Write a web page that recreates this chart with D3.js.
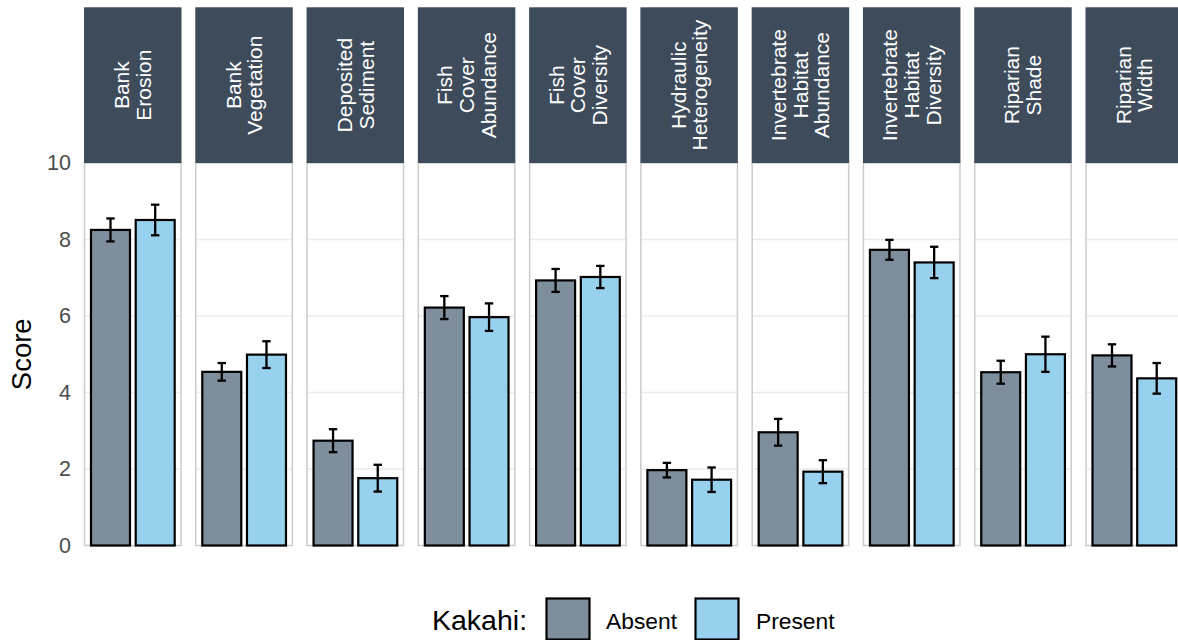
<!DOCTYPE html>
<html>
<head>
<meta charset="utf-8">
<script src="https://cdn.jsdelivr.net/npm/d3@7"></script>
<style>
  html, body { margin: 0; padding: 0; background: #ffffff; }
  svg { display: block; font-family: "Liberation Sans", Arial, sans-serif; }
</style>
</head>
<body>
<svg id="chart" width="1178" height="640"></svg>
<script>
// Habitat score categories (one facet each); "\n" marks the strip line breaks
const categories = [
  "Bank\nErosion",
  "Bank\nVegetation",
  "Deposited\nSediment",
  "Fish\nCover\nAbundance",
  "Fish\nCover\nDiversity",
  "Hydraulic\nHeterogeneity",
  "Invertebrate\nHabitat\nAbundance",
  "Invertebrate\nHabitat\nDiversity",
  "Riparian\nShade",
  "Riparian\nWidth"
];
const groups = ["Absent", "Present"];

// Mean scores and standard errors by Kakahi presence
const absentMean  = [8.25, 4.54, 2.74, 6.22, 6.93, 1.97, 2.96, 7.73, 4.53, 4.97];
const absentSE    = [0.30, 0.23, 0.30, 0.30, 0.30, 0.19, 0.35, 0.26, 0.30, 0.29];
const presentMean = [8.51, 4.99, 1.76, 5.97, 7.02, 1.72, 1.93, 7.40, 5.00, 4.37];
const presentSE   = [0.40, 0.35, 0.35, 0.36, 0.29, 0.32, 0.30, 0.41, 0.46, 0.40];

const yTicks = [0, 2, 4, 6, 8, 10];
const groupColors = ["#7f8e9c", "#97d1ee"];

const rows = [];
categories.forEach((c, i) => {
  rows.push({ cat: c, group: "Absent",  mean: absentMean[i],  se: absentSE[i] });
  rows.push({ cat: c, group: "Present", mean: presentMean[i], se: presentSE[i] });
});

const svg = d3.select("#chart");

const panelTop = 163, panelBottom = 545.5, stripTop = 7.3;

const facetX = d3.scaleBand()
  .domain(categories)
  .range([84.5, 1182.5])
  .paddingInner(0.1328)
  .paddingOuter(0);

const pw = facetX.bandwidth();

const inner = d3.scaleBand()
  .domain(groups)
  .range([6.5, pw - 6.3])
  .paddingInner(0.128)
  .paddingOuter(0);

const y = d3.scaleLinear().domain([0, 10]).range([panelBottom, panelTop]);
const color = d3.scaleOrdinal().domain(groups).range(groupColors);

const gridTicks = [2, 4, 6, 8];

// facet panels
const panels = svg.selectAll("g.panel")
  .data(categories)
  .join("g")
  .attr("class", "panel")
  .attr("transform", d => `translate(${facetX(d)},0)`);

// horizontal grid
panels.selectAll("line.grid")
  .data(gridTicks)
  .join("line")
  .attr("class", "grid")
  .attr("x1", 0).attr("x2", pw)
  .attr("y1", d => y(d)).attr("y2", d => y(d))
  .attr("stroke", "#ebebeb")
  .attr("stroke-width", 1.4);

// panel border
panels.append("rect")
  .attr("x", 0).attr("y", panelTop)
  .attr("width", pw).attr("height", panelBottom - panelTop)
  .attr("fill", "none")
  .attr("stroke", "#cccccc")
  .attr("stroke-width", 1.5);

// strips
panels.append("rect")
  .attr("x", -0.5).attr("y", stripTop)
  .attr("width", pw + 1).attr("height", panelTop - stripTop)
  .attr("fill", "#3d4b5b");

const lineGap = 21.7;
panels.each(function(cat) {
  const lines = cat.split("\n");
  const cx = pw / 2, cy = (stripTop + panelTop) / 2;
  const t = d3.select(this).append("text")
    .attr("transform", `translate(${cx},${cy}) rotate(-90)`)
    .attr("text-anchor", "middle")
    .attr("fill", "#ffffff")
    .attr("font-size", 21);
  lines.forEach((ln, k) => {
    const off = (k - (lines.length - 1) / 2) * lineGap;
    t.append("tspan")
      .attr("x", 0)
      .attr("y", off)
      .attr("dy", "0.35em")
      .text(ln);
  });
});

// bars
panels.selectAll("rect.bar")
  .data(cat => rows.filter(r => r.cat === cat))
  .join("rect")
  .attr("class", "bar")
  .attr("x", d => inner(d.group))
  .attr("width", inner.bandwidth())
  .attr("y", d => y(d.mean))
  .attr("height", d => y(0) - y(d.mean))
  .attr("fill", d => color(d.group))
  .attr("stroke", "#000")
  .attr("stroke-width", 2.2);

// error bars
const capHalf = 4.2;
const eb = panels.selectAll("g.err")
  .data(cat => rows.filter(r => r.cat === cat))
  .join("g")
  .attr("class", "err")
  .attr("stroke", "#000")
  .attr("stroke-width", 2.3);
eb.append("line")
  .attr("x1", d => inner(d.group) + inner.bandwidth() / 2)
  .attr("x2", d => inner(d.group) + inner.bandwidth() / 2)
  .attr("y1", d => y(d.mean + d.se))
  .attr("y2", d => y(d.mean - d.se));
eb.append("line")
  .attr("x1", d => inner(d.group) + inner.bandwidth() / 2 - capHalf)
  .attr("x2", d => inner(d.group) + inner.bandwidth() / 2 + capHalf)
  .attr("y1", d => y(d.mean + d.se))
  .attr("y2", d => y(d.mean + d.se));
eb.append("line")
  .attr("x1", d => inner(d.group) + inner.bandwidth() / 2 - capHalf)
  .attr("x2", d => inner(d.group) + inner.bandwidth() / 2 + capHalf)
  .attr("y1", d => y(d.mean - d.se))
  .attr("y2", d => y(d.mean - d.se));

// y axis labels
const yAxis = d3.axisLeft(y).tickValues(yTicks).tickSize(0).tickPadding(0);
const gy = svg.append("g")
  .attr("transform", "translate(71,0)")
  .call(yAxis);
gy.select(".domain").remove();
gy.selectAll("text")
  .attr("font-size", 21.5)
  .attr("fill", "#4d4d4d")
  .attr("font-family", "Liberation Sans, Arial, sans-serif");

// y axis title
svg.append("text")
  .attr("transform", `translate(31,${(panelTop + panelBottom) / 2}) rotate(-90)`)
  .attr("text-anchor", "middle")
  .attr("font-size", 27.5)
  .attr("fill", "#000")
  .text("Score");

// legend
const legend = svg.append("g");
legend.append("text")
  .attr("x", 432).attr("y", 630)
  .attr("font-size", 28.5)
  .attr("fill", "#000")
  .text("Kakahi:");
const keyX = [546.5, 695.5];
const labelX = [606, 756];
groups.forEach((g, i) => {
  legend.append("rect")
    .attr("x", keyX[i]).attr("y", 598.5)
    .attr("width", 43).attr("height", 41)
    .attr("fill", color(g))
    .attr("stroke", "#000")
    .attr("stroke-width", 2.2);
  legend.append("text")
    .attr("x", labelX[i]).attr("y", 628.5)
    .attr("font-size", 22.8)
    .attr("fill", "#000")
    .text(g);
});
</script>
</body>
</html>
